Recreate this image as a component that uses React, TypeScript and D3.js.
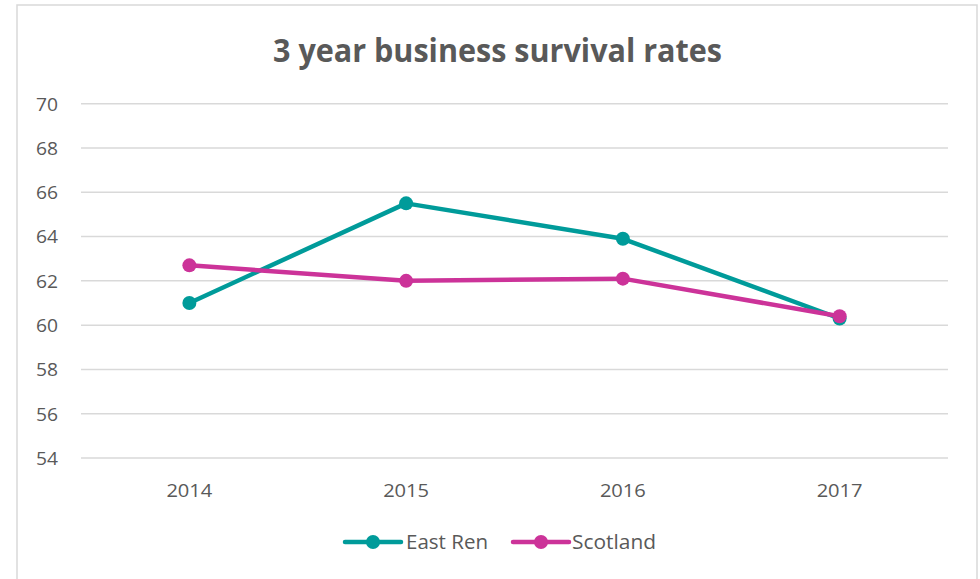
import React from "react";
import * as d3 from "d3";

const years = ["2014", "2015", "2016", "2017"];
const eastRen = [61.0, 65.5, 63.9, 60.3];
const scotland = [62.7, 62.0, 62.1, 60.4];
const yTicks = [54, 56, 58, 60, 62, 64, 66, 68, 70];
const seriesNames = ["East Ren", "Scotland"];
const seriesColors = ["#009B9A", "#CC3399"];

const W = 980;
const H = 579;
const FONT = "'Open Sans', 'Noto Sans', sans-serif";
const TEXT = "#595959";

export default function App() {
  const x = d3.scaleBand<string>().domain(years).range([81, 948]);
  const y = d3.scaleLinear().domain([54, 70]).range([458, 103.7]);
  const line = d3
    .line<number>()
    .x((_, i) => (x(years[i]) as number) + x.bandwidth() / 2)
    .y((d) => y(d));
  const series = [eastRen, scotland];

  const legendItems = [
    { lx: 345, tx: 406, tw: 82 },
    { lx: 513, tx: 572, tw: 84 },
  ];

  return (
    <svg
      width={W}
      height={H}
      style={{ position: "absolute", left: 0, top: 0, background: "#fff" }}
    >
      <rect x={17} y={5} width={960} height={H + 10} fill="#fff" stroke="#D9D9D9" strokeWidth={1.5} />
      <text
        x={497.5}
        y={62}
        textAnchor="middle"
        fontFamily={FONT}
        fontWeight={700}
        fontSize={32}
        fill={TEXT}
        textLength={449}
        lengthAdjust="spacingAndGlyphs"
      >
        3 year business survival rates
      </text>
      {yTicks.map((t) => (
        <g key={t}>
          <line x1={81} x2={948} y1={y(t)} y2={y(t)} stroke="#D9D9D9" strokeWidth={1.5} />
          <text
            x={58}
            y={y(t)}
            dy="0.36em"
            textAnchor="end"
            fontFamily={FONT}
            fontSize={19}
            fill={TEXT}
            textLength={22}
            lengthAdjust="spacingAndGlyphs"
          >
            {t}
          </text>
        </g>
      ))}
      {years.map((yr) => (
        <text
          key={yr}
          x={(x(yr) as number) + x.bandwidth() / 2}
          y={497}
          textAnchor="middle"
          fontFamily={FONT}
          fontSize={19}
          fill={TEXT}
          textLength={46}
          lengthAdjust="spacingAndGlyphs"
        >
          {yr}
        </text>
      ))}
      {series.map((s, si) => (
        <g key={si}>
          <path
            d={line(s) as string}
            fill="none"
            stroke={seriesColors[si]}
            strokeWidth={4.5}
            strokeLinejoin="round"
            strokeLinecap="round"
          />
          {s.map((v, i) => (
            <circle
              key={i}
              cx={(x(years[i]) as number) + x.bandwidth() / 2}
              cy={y(v)}
              r={7}
              fill={seriesColors[si]}
            />
          ))}
        </g>
      ))}
      {seriesNames.map((n, i) => (
        <g key={n}>
          <line
            x1={legendItems[i].lx}
            x2={legendItems[i].lx + 56}
            y1={542}
            y2={542}
            stroke={seriesColors[i]}
            strokeWidth={4.5}
            strokeLinecap="round"
          />
          <circle cx={legendItems[i].lx + 28} cy={542} r={7} fill={seriesColors[i]} />
          <text
            x={legendItems[i].tx}
            y={542}
            dy="0.36em"
            fontFamily={FONT}
            fontSize={20}
            fill={TEXT}
            textLength={legendItems[i].tw}
            lengthAdjust="spacingAndGlyphs"
          >
            {n}
          </text>
        </g>
      ))}
    </svg>
  );
}
